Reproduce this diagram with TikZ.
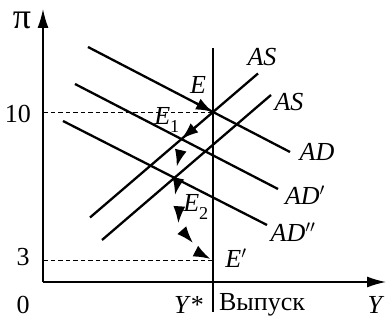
\documentclass[tikz,border=0pt]{standalone}
\usepackage{fontspec}
\setmainfont{Liberation Serif}
\usetikzlibrary{arrows.meta,calc}
\begin{document}
\begin{tikzpicture}[x=1pt,y=-1pt,
  lbl/.style={font=\fontsize{26}{29}\selectfont, inner sep=0pt},
  curve/.style={line width=2.3pt},
  axis/.style={line width=1.5pt, -{Latex[length=19pt,width=11pt]}},
  guide/.style={line width=0.9pt, dash pattern=on 4.5pt off 3pt},
  head/.style={line width=2pt, -{Latex[length=17pt,width=12pt]}}]
\useasboundingbox (0,0) rectangle (386,320);
% axes
\coordinate (O) at (43,282);
\coordinate (Ytop) at (43,9);
\coordinate (Xend) at (386,282);
\draw[axis] (O) -- (Ytop);
\draw[axis] (O) -- (Xend);
% key points
\coordinate (E) at (213,112);
\coordinate (E1) at (181.5,139);
\coordinate (Ep) at (213,260);
\coordinate (Y10) at (43,112);
\coordinate (Y3) at (43,260);
% dashed guides
\draw[guide] (Y10) -- (E);
\draw[guide] (Y3) -- (Ep);
% vertical long-run line
\coordinate (LRt) at (213,48);
\coordinate (LRb) at (213,312);
\draw[curve] (LRt) -- (LRb);
% AS curves
\coordinate (AS1a) at (90,217.5);
\coordinate (AS1b) at (258,73.5);
\coordinate (AS2a) at (102,240);
\coordinate (AS2b) at (271,95);
\draw[curve] (AS1a) -- (AS1b);
\draw[curve] (AS2a) -- (AS2b);
% AD curves
\coordinate (ADa) at (88,47);
\coordinate (ADb) at (290,152);
\coordinate (ADpa) at (75,84);
\coordinate (ADpb) at (278,189);
\coordinate (ADqa) at (63,121);
\coordinate (ADqb) at (267,225);
\draw[curve] (ADa) -- (ADb);
\draw[curve] (ADpa) -- (ADpb);
\draw[curve] (ADqa) -- (ADqb);
% adjustment arrows
\draw[head] ($(E)!20pt!(ADa)$) -- (E);
\draw[head] ($(E1)!20pt!(E)$) -- (E1);
\coordinate (c1) at (176.7,166.7);
\coordinate (c2) at (175,195);
\coordinate (c3) at (178.3,223.3);
\coordinate (c4) at (193,243);
\coordinate (c5) at (210.5,259);
\draw[head] ($(c1)+(0.238*16.5,-0.972*16.5)$) -- (c1);
\draw[head] ($(c2)+(0.196*16.5,-0.981*16.5)$) -- (c2);
\draw[head] ($(c3)+(0.06*16.5,-0.998*16.5)$) -- (c3);
\draw[head] ($(c4)+(-0.659*16.5,-0.753*16.5)$) -- (c4);
\draw[head] ($(c5)+(-0.887*16.5,-0.462*16.5)$) -- (c5);
% labels
\node[lbl] (lpi) at (22,20) {\fontsize{36}{38}\selectfont π};
\node[lbl] (l10) at (18,114) {10};
\node[lbl] (l3) at (23,257) {3};
\node[lbl] (l0) at (23,305) {0};
\node[lbl] (lYs) at (189,305) {\textit{Y}*};
\node[lbl] (lout) at (262,305) {Выпуск};
\node[lbl] (lY) at (376,305) {\textit{Y}};
\node[lbl] (lAS1) at (262,57) {\textit{AS}};
\node[lbl] (lAS2) at (289,102) {\textit{AS}};
\node[lbl] (lAD) at (317,152) {\textit{AD}};
\node[lbl] (lADp) at (305,195) {\textit{AD}$'$};
\node[lbl] (lADq) at (293,232) {\textit{AD}$''$};
\node[lbl] (lE) at (198,85) {\textit{E}};
\node[lbl] (lE1) at (167,120) {\textit{E}\textsubscript{\raisebox{-0.55ex}{1}}};
\node[lbl] (lE2) at (196,207) {\textit{E}\textsubscript{\raisebox{-0.55ex}{2}}};
\node[lbl] (lEp) at (236,258) {\textit{E}$'$};
\end{tikzpicture}
\end{document}
